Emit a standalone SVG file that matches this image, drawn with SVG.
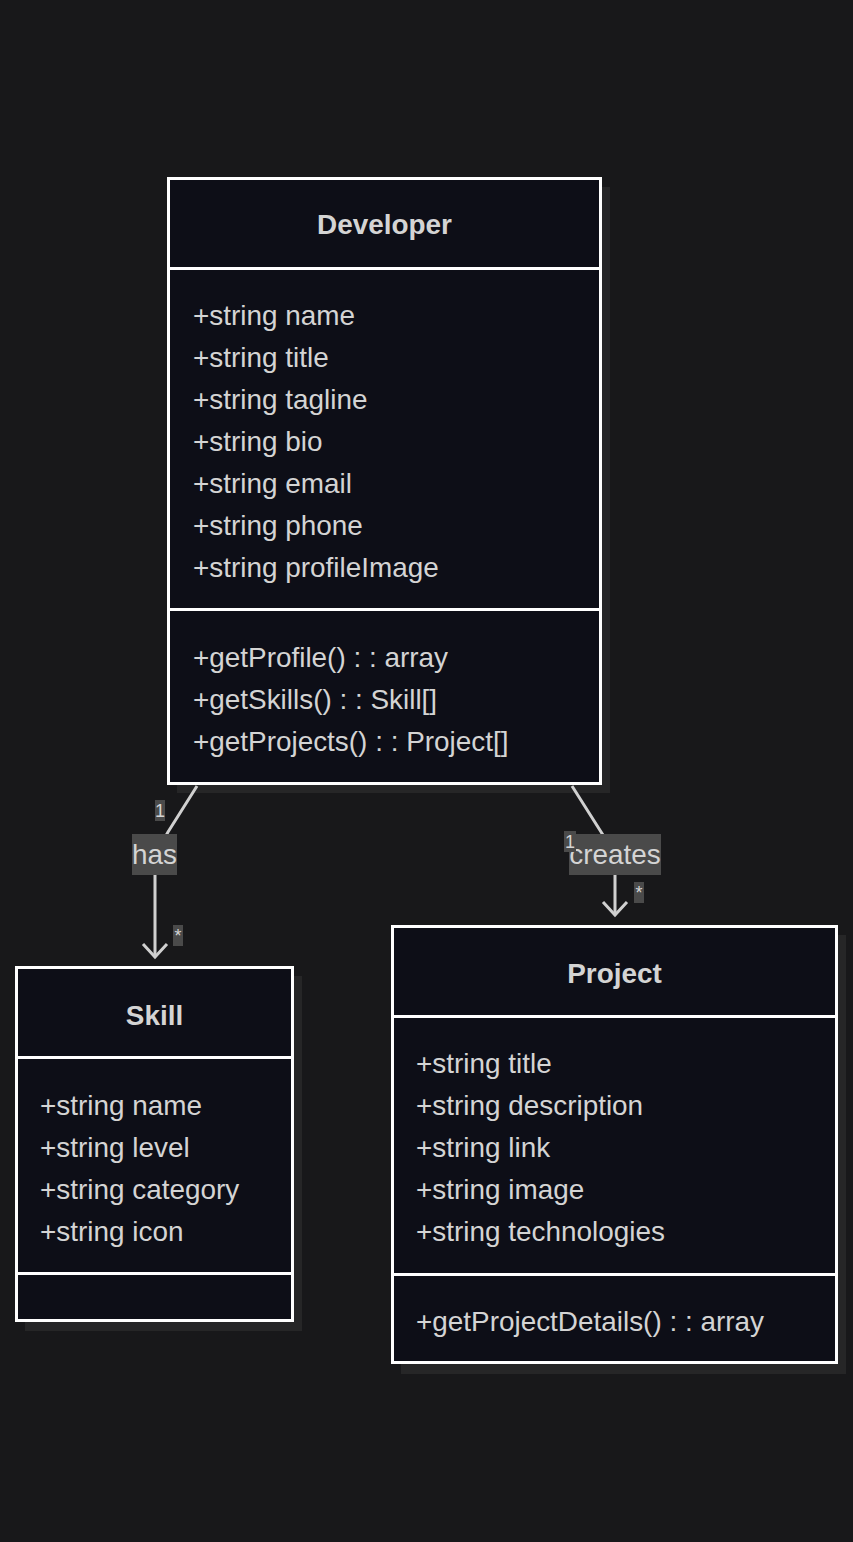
<svg xmlns="http://www.w3.org/2000/svg" width="853" height="1542" viewBox="0 0 853 1542">
<style>
.bg{fill:#18181a}
.shadow{fill:#262627}
.box{fill:#0d0e17;stroke:#ffffff;stroke-width:3}
.div{stroke:#ffffff;stroke-width:3}
.t{font-family:"Liberation Sans",Arial,sans-serif;font-size:27.9px;fill:#d4d4d4}
.title{font-weight:bold;text-anchor:middle}
.edge{fill:none;stroke:#d0d0d0;stroke-width:3}
.lblbg{fill:#4a4a4a}
.lbl{font-family:"Liberation Sans",Arial,sans-serif;font-size:27.9px;fill:#d4d4d4;text-anchor:middle}
.card{font-family:"Liberation Sans",Arial,sans-serif;font-size:18px;fill:#d4d4d4;text-anchor:middle}
</style>
<rect class="bg" x="0" y="0" width="853" height="1542"/>

<g id="Developer">
<rect class="shadow" x="177" y="187" width="433" height="606"/>
<rect class="box" x="168.5" y="178.5" width="432" height="605"/>
<line class="div" x1="168.5" y1="268.5" x2="600.5" y2="268.5"/>
<line class="div" x1="168.5" y1="609.5" x2="600.5" y2="609.5"/>
<text class="t title" x="384.5" y="234">Developer</text>
<text class="t" x="193" y="325">+string name</text>
<text class="t" x="193" y="367">+string title</text>
<text class="t" x="193" y="409">+string tagline</text>
<text class="t" x="193" y="451">+string bio</text>
<text class="t" x="193" y="493">+string email</text>
<text class="t" x="193" y="535">+string phone</text>
<text class="t" x="193" y="577">+string profileImage</text>
<text class="t" x="193" y="667">+getProfile() : : array</text>
<text class="t" x="193" y="709">+getSkills() : : Skill[]</text>
<text class="t" x="193" y="751">+getProjects() : : Project[]</text>
</g>

<g id="Skill">
<rect class="shadow" x="25" y="976" width="277" height="355"/>
<rect class="box" x="16.5" y="967.5" width="276" height="353"/>
<line class="div" x1="16.5" y1="1057.5" x2="292.5" y2="1057.5"/>
<line class="div" x1="16.5" y1="1273.5" x2="292.5" y2="1273.5"/>
<text class="t title" x="154.5" y="1025">Skill</text>
<text class="t" x="40" y="1115">+string name</text>
<text class="t" x="40" y="1157">+string level</text>
<text class="t" x="40" y="1199">+string category</text>
<text class="t" x="40" y="1241">+string icon</text>
</g>

<g id="Project">
<rect class="shadow" x="401" y="935" width="445" height="439"/>
<rect class="box" x="392.5" y="926.5" width="444" height="436"/>
<line class="div" x1="392.5" y1="1016.5" x2="836.5" y2="1016.5"/>
<line class="div" x1="392.5" y1="1274.5" x2="836.5" y2="1274.5"/>
<text class="t title" x="614.5" y="983">Project</text>
<text class="t" x="416" y="1073">+string title</text>
<text class="t" x="416" y="1115">+string description</text>
<text class="t" x="416" y="1157">+string link</text>
<text class="t" x="416" y="1199">+string image</text>
<text class="t" x="416" y="1241">+string technologies</text>
<text class="t" x="416" y="1331">+getProjectDetails() : : array</text>
</g>

<g id="connectors">
<path class="edge" d="M197,786 L168,832 Q155,852 155,875 L155,956"/>
<path class="edge" d="M143,944 L155,957 L167,944"/>
<path class="edge" d="M572,786 L603,835 Q615,855 615,875 L615,914"/>
<path class="edge" d="M603,902 L615,915 L627,902"/>
<rect class="lblbg" x="132" y="834" width="45" height="41"/>
<text class="lbl" x="154.5" y="864">has</text>
<rect class="lblbg" x="155" y="800" width="10" height="21"/>
<text class="card" x="160" y="817">1</text>
<rect class="lblbg" x="173" y="925" width="10" height="21"/>
<text class="card" x="178" y="942">*</text>
<rect class="lblbg" x="569" y="834" width="92" height="41"/>
<text class="lbl" x="615" y="864">creates</text>
<rect class="lblbg" x="564" y="831" width="12" height="21"/>
<text class="card" x="570" y="848">1</text>
<rect class="lblbg" x="634" y="882" width="10" height="21"/>
<text class="card" x="639" y="899">*</text>
</g>
</svg>
